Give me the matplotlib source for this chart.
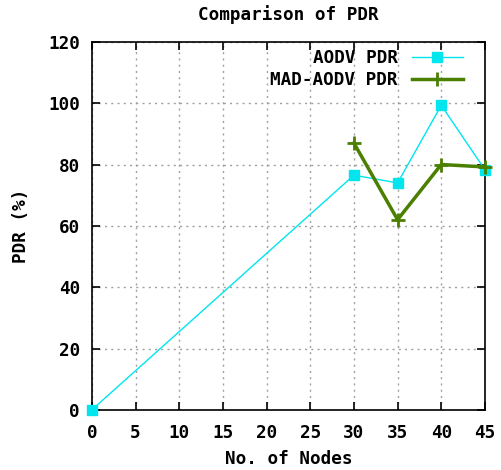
import matplotlib.pyplot as plt

plt.rcParams.update({
    "font.family": "DejaVu Sans Mono",
    "font.weight": "bold",
    "font.size": 12.7,
})

nodes_aodv = [0, 30, 35, 40, 45]
pdr_aodv = [0, 76.5, 74, 99.3, 78.3]
nodes_mad = [30, 35, 40, 45]
pdr_mad = [87, 62, 80, 79.2]

fig = plt.figure(figsize=(5.02, 4.70), dpi=100)
ax = fig.add_axes([0.183, 0.128, 0.783, 0.783])

ax.plot(nodes_aodv, pdr_aodv, color='#00e5ee', lw=1, marker='s', ms=7,
        label='AODV PDR', clip_on=False, zorder=3)
ax.plot(nodes_mad, pdr_mad, color='#4a7f00', lw=2.5, marker='+', ms=10, mew=2,
        label='MAD-AODV PDR', clip_on=False, zorder=4)

ax.set_xlim(0, 45)
ax.set_ylim(0, 120)
ax.set_xticks(range(0, 50, 5))
ax.set_yticks(range(0, 140, 20))
ax.grid(True, color='#a0a0a0', linestyle=(0, (1.5, 3)), lw=1)
ax.tick_params(direction='in', top=True, right=True, length=6, width=1.2)
ax.tick_params(axis='x', pad=10)
ax.tick_params(axis='y', pad=8.5)
for s in ax.spines.values():
    s.set_linewidth(1.2)

ax.set_title('Comparison of PDR', fontsize=12.7, fontweight='bold', pad=16)
ax.set_xlabel('No. of Nodes', fontweight='bold', labelpad=6)
ax.set_ylabel('PDR (%)', fontweight='bold', labelpad=13)

ax.legend(loc='upper right', bbox_to_anchor=(0.962, 1.0), borderaxespad=0,
          frameon=False, markerfirst=False, handlelength=2.9,
          labelspacing=0.25)

fig.savefig('out.png', dpi=100)
